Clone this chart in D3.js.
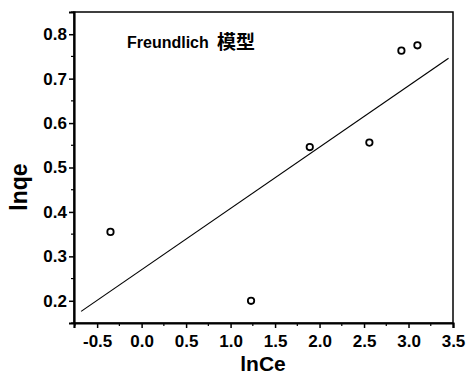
<!DOCTYPE html>
<html>
<head>
<meta charset="utf-8">
<script src="https://cdn.jsdelivr.net/npm/d3@7"></script>
<style>
  html, body { margin: 0; padding: 0; background: #fff; }
  svg { display: block; }
  .tick text { font-family: "Liberation Sans", Arial, sans-serif; font-weight: bold; font-size: 17px; fill: #000; }
</style>
</head>
<body>
<svg id="chart" width="470" height="374"></svg>
<script>
// Freundlich isotherm: ln qe against ln Ce
const lnCe = [-0.35, 1.23, 1.89, 2.56, 2.92, 3.10];
const lnqe = [0.355, 0.200, 0.546, 0.556, 0.763, 0.775];

// linear fit lnqe = intercept + slope * lnCe, drawn across this span
const fitSlope = 0.138;
const fitIntercept = 0.270;
const fitSpan = [-0.68, 3.45];

const xTicks = [-0.5, 0.0, 0.5, 1.0, 1.5, 2.0, 2.5, 3.0, 3.5];
const yTicks = [0.2, 0.3, 0.4, 0.5, 0.6, 0.7, 0.8];
const xMinor = [-0.75, -0.25, 0.25, 0.75, 1.25, 1.75, 2.25, 2.75, 3.25];
const yMinor = [0.15, 0.25, 0.35, 0.45, 0.55, 0.65, 0.75, 0.85];

const titleLatin = "Freundlich";
const titleCJK = "模型";
const xTitle = "lnCe";
const yTitle = "lnqe";

const svg = d3.select("#chart");
const plotL = 74, plotR = 453, plotT = 12, plotB = 323;

const x = d3.scaleLinear().domain([-0.76, 3.5]).range([plotL, plotR]);
const y = d3.scaleLinear().domain([0.15, 0.85]).range([plotB, plotT]);

// frame
svg.append("rect")
  .attr("x", plotL).attr("y", plotT)
  .attr("width", plotR - plotL).attr("height", plotB - plotT)
  .attr("fill", "none").attr("stroke", "#000").attr("stroke-width", 1.5);

// bottom axis
const gx = svg.append("g").attr("transform", `translate(0,${plotB})`)
  .call(d3.axisBottom(x).tickValues(xTicks).tickSize(5).tickPadding(7)
    .tickFormat(d => d3.format(".1f")(d).replace("−", "-")));
gx.select(".domain").attr("stroke-width", 2.2);
gx.selectAll(".tick line").attr("stroke-width", 1.5);
gx.selectAll(".tick text").attr("dy", "0.71em");
gx.append("g").selectAll("line").data(xMinor.filter(v => v > -0.76)).join("line")
  .attr("x1", d => x(d)).attr("x2", d => x(d))
  .attr("y1", 0).attr("y2", 3).attr("stroke", "#000").attr("stroke-width", 1.2);

// left axis
const gy = svg.append("g").attr("transform", `translate(${plotL},0)`)
  .call(d3.axisLeft(y).tickValues(yTicks).tickSize(5).tickPadding(2)
    .tickFormat(d3.format(".1f")));
gy.select(".domain").attr("stroke-width", 2.2);
gy.selectAll(".tick line").attr("stroke-width", 1.5);
gy.append("g").selectAll("line").data(yMinor).join("line")
  .attr("y1", d => y(d)).attr("y2", d => y(d))
  .attr("x1", 0).attr("x2", -3).attr("stroke", "#000").attr("stroke-width", 1.2);

// fitted line
svg.append("line")
  .attr("x1", x(fitSpan[0])).attr("y1", y(fitIntercept + fitSlope * fitSpan[0]))
  .attr("x2", x(fitSpan[1])).attr("y2", y(fitIntercept + fitSlope * fitSpan[1]))
  .attr("stroke", "#000").attr("stroke-width", 1.2);

// data points
svg.append("g").selectAll("circle").data(d3.zip(lnCe, lnqe)).join("circle")
  .attr("cx", d => x(d[0])).attr("cy", d => y(d[1]))
  .attr("r", 3.2).attr("fill", "#fff").attr("stroke", "#000").attr("stroke-width", 1.8);

// title inside the plot: Latin part, then the CJK part
svg.append("text").attr("x", 127).attr("y", 48)
  .attr("font-family", "'Liberation Sans', Arial, sans-serif").attr("font-weight", "bold")
  .attr("font-size", 16).text(titleLatin);
svg.append("text").attr("x", 217).attr("y", 49)
  .attr("font-family", "'Noto Sans CJK SC', sans-serif").attr("font-weight", "bold")
  .attr("font-size", 19).text(titleCJK);

// axis titles
svg.append("text").attr("x", 263).attr("y", 371).attr("text-anchor", "middle")
  .attr("font-family", "'Liberation Sans', Arial, sans-serif").attr("font-weight", "bold")
  .attr("font-size", 21).text(xTitle);
svg.append("text").attr("transform", "translate(27,187) rotate(-90)").attr("text-anchor", "middle")
  .attr("font-family", "'Liberation Sans', Arial, sans-serif").attr("font-weight", "bold")
  .attr("font-size", 23).text(yTitle);
</script>
</body>
</html>
